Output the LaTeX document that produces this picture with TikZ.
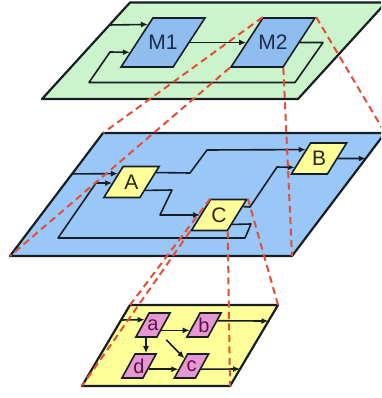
\documentclass[tikz,border=0pt]{standalone}
\usepackage{fontspec}
\setmainfont{Liberation Sans}
\usetikzlibrary{calc,arrows.meta}

\definecolor{lineC}{RGB}{22,30,36}
\definecolor{planeG}{RGB}{204,244,204}
\definecolor{planeB}{RGB}{153,200,248}
\definecolor{boxB}{RGB}{143,189,239}
\definecolor{paleY}{RGB}{255,255,153}
\definecolor{boxP}{RGB}{230,153,208}
\definecolor{zoomred}{RGB}{232,76,52}
\definecolor{txtM}{RGB}{28,43,74}
\definecolor{txtA}{RGB}{40,40,20}
\definecolor{txtP}{RGB}{90,16,80}

\tikzset{
  plane/.style={draw=lineC, line width=2.2pt, line join=round},
  box/.style={draw=lineC, line width=1.6pt, inner sep=0pt, transform shape},
  wire/.style={draw=lineC, line width=1.6pt, line join=round},
  arr/.style={wire, -{Latex[length=7pt,width=6pt]}},
  zoomline/.style={draw=zoomred, line width=2pt, dash pattern=on 7pt off 4.5pt},
  lbl/.style={font=\fontsize{21}{25}\selectfont, inner sep=0pt},
  slbl/.style={font=\fontsize{20}{24}\selectfont, inner sep=0pt},
}

% slanted box: name, x, y, width, height, slant, fill
\newcommand\slbox[7]{%
  \begin{scope}[shift={(#2,#3)}, xslant=#6]
    \node[box, fill=#7, minimum width=#4pt, minimum height=#5pt] (#1) at (0,0) {};
  \end{scope}}

\begin{document}
\begin{tikzpicture}[x=1pt,y=-1pt]
\useasboundingbox (0,0) rectangle (381,398);
\clip (0,0) rectangle (381,398);

% plane corners
\coordinate (tTL) at (130,2.5);  \coordinate (tTR) at (386,2.5);
\coordinate (tBR) at (298,99);   \coordinate (tBL) at (42,99);
\coordinate (mTL) at (103,133);  \coordinate (mTR) at (385,133);
\coordinate (mBR) at (292,256);  \coordinate (mBL) at (10,256);
\coordinate (bTL) at (130,305);  \coordinate (bTR) at (278,305);
\coordinate (bBR) at (230,386);  \coordinate (bBL) at (82,386);

% ---------- top level ----------
\draw[plane, fill=planeG] (tTL) -- (tTR) -- (tBR) -- (tBL) -- cycle;
\slbox{M1}{163}{42.5}{52}{49}{0.65}{boxB}
\slbox{M2}{273}{42.5}{52}{49}{0.65}{boxB}
\node[lbl, text=txtM] (M1t) at (M1) {M1};
\node[lbl, text=txtM] (M2t) at (M2) {M2};

\draw[arr] ($(tBL)!0.767!(tTL)$) -- ($(M1.south west)!0.857!(M1.north west)$);
\draw[arr] (M1.east) -- (M2.west);
\draw[arr] (M2.east) -- (323,42.5) -- (295,82.5) -- (89,82.5) -- (110,52)
  -- ($(M1.south west)!0.306!(M1.north west)$);

% ---------- middle level ----------
\draw[plane, fill=planeB] (mTL) -- (mTR) -- (mBR) -- (mBL) -- cycle;
\slbox{A}{131.5}{182}{36}{31}{0.62}{paleY}
\slbox{B}{319}{158.5}{36}{31}{0.62}{paleY}
\slbox{C}{219}{215}{36}{31}{0.62}{paleY}
\node[lbl, text=txtA] (At) at (A) {A};
\node[lbl, text=txtA] (Bt) at (B) {B};
\node[lbl, text=txtA] (Ct) at (C) {C};

\draw[arr] ($(mBL)!0.667!(mTL)$) -- ($(A.south west)!0.758!(A.north west)$);
\draw[arr] ($(C.south east)!0.21!(C.north east)$) -- (251,224) -- (245,238)
  -- (58,238) -- (96,183) -- ($(A.south west)!0.468!(A.north west)$);
\draw[arr] ($(A.south east)!0.79!(A.north east)$) -- (190,173) -- (207,150)
  -- ($(B.south west)!0.774!(B.north west)$);
\draw[arr] ($(A.south east)!0.242!(A.north east)$) -- (172,190) -- (160,215) -- (C.west);
\draw[arr] ($(C.south east)!0.758!(C.north east)$) -- (250,207) -- (277,167)
  -- ($(B.south west)!0.226!(B.north west)$);
\draw[arr] (B.east) -- ($(mBR)!0.793!(mTR)$);

% ---------- bottom level ----------
\draw[plane, fill=paleY] (bTL) -- (bTR) -- (bBR) -- (bBL) -- cycle;
\slbox{a}{153}{325}{21}{24}{0.55}{boxP}
\slbox{b}{204}{325}{21}{24}{0.55}{boxP}
\slbox{d}{139}{366}{21}{24}{0.55}{boxP}
\slbox{c}{191.5}{366}{21}{24}{0.55}{boxP}
\node[slbl, text=txtP] (at) at (a) {a};
\node[slbl, text=txtP] (bt) at (b) {b};
\node[slbl, text=txtP] (dt) at (d) {d};
\node[slbl, text=txtP] (ct) at (c) {c};

\draw[arr] ($(bBL)!0.815!(bTL)$) -- ($(a.south west)!0.708!(a.north west)$);
\draw[arr] ($(a.south east)!0.29!(a.north east)$) -- ($(b.south west)!0.29!(b.north west)$);
\draw[arr] ($(b.south east)!0.667!(b.north east)$) -- ($(bBR)!0.802!(bTR)$);
\draw[arr] (a.south) -- (d.north);
\draw[arr] ($(a.south east)+(9,2)$) -- ($(c.south west)!0.8!(c.north west)$);
\draw[arr] ($(d.south east)!0.375!(d.north east)$) -- ($(c.south west)!0.375!(c.north west)$);
\draw[arr] ($(c.south east)!0.375!(c.north east)$) -- ($(bBR)!0.21!(bTR)$);

% ---------- zoom projections ----------
\draw[zoomline] (M2.north west) -- (mTL);
\draw[zoomline] (M2.south west) -- (mBL);
\draw[zoomline] (M2.south east) -- (mBR);
\draw[zoomline] (M2.north east) -- (mTR);
\draw[zoomline] (C.north west) -- (bTL);
\draw[zoomline] (C.south west) -- (bBL);
\draw[zoomline] (C.south east) -- (bBR);
\draw[zoomline] (C.north east) -- (bTR);
\end{tikzpicture}
\end{document}
